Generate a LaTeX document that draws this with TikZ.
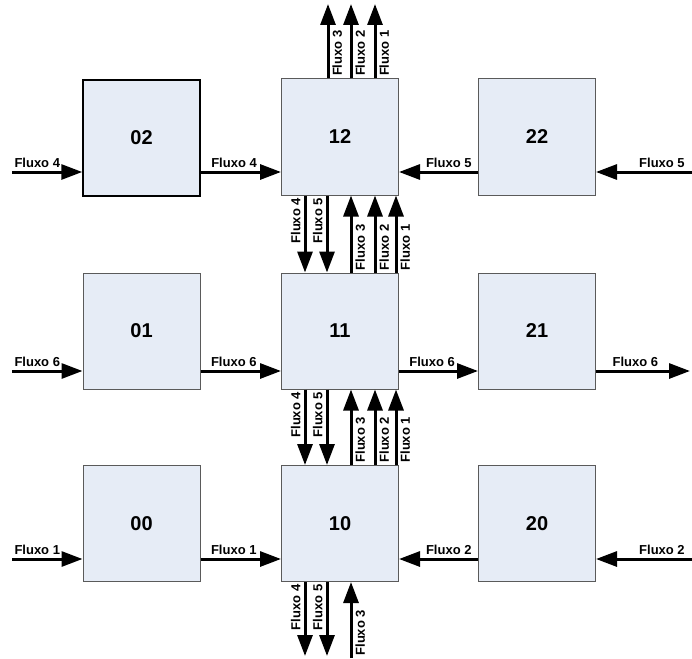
\documentclass[tikz,border=0pt]{standalone}
\usepackage{fontspec}
\setmainfont{Liberation Sans}
\usepackage{xcolor}
\usetikzlibrary{arrows.meta}

\definecolor{boxfill}{RGB}{230,236,246}
\definecolor{boxline}{RGB}{90,90,90}

\begin{document}
\begin{tikzpicture}[
    x=1pt, y=-1pt,
    box/.style={rectangle, draw=boxline, line width=1pt, fill=boxfill, minimum width=117pt, minimum height=116pt, inner sep=0pt, font=\fontsize{20}{24}\selectfont\bfseries},
    flow/.style={line width=3pt, -{Triangle[length=21pt,width=15pt]}},
    lbl/.style={inner xsep=1pt, inner ysep=3pt, font=\fontsize{13}{15}\selectfont\bfseries},
    up/.style={lbl, rotate=90, anchor=north west},
    dn/.style={lbl, rotate=90, anchor=south east}
]
\useasboundingbox (0,0) rectangle (692,658);

\node[box, draw=black, line width=1.5pt] (b02) at (141.5,138) {02};
\node[box] (b12) at (340,137) {12};
\node[box] (b22) at (537,137) {22};
\node[box] (b01) at (141.5,331) {01};
\node[box] (b11) at (340,331) {11};
\node[box] (b21) at (537,331) {21};
\node[box] (b00) at (141.5,523.5) {00};
\node[box] (b10) at (340,523.5) {10};
\node[box] (b20) at (537,523.5) {20};

% free ends
\coordinate (in4) at (12,172);
\coordinate (in5) at (692,172);
\coordinate (in6) at (12,371);
\coordinate (out6) at (690,371);
\coordinate (in1) at (12,559);
\coordinate (in2) at (692,559);
\coordinate (top3) at (328,4);
\coordinate (top2) at (351,4);
\coordinate (top1) at (375,4);
\coordinate (bot4) at (305,656);
\coordinate (bot5) at (327,656);
\coordinate (bot3) at (351,658);

% row 2
\draw[flow] (in4) -- node[lbl, pos=0, anchor=south west] {Fluxo 4} (b02.west |- in4);
\draw[flow] (b02.east |- in4) -- node[lbl, pos=0.1, anchor=south west] {Fluxo 4} (b12.west |- in4);
\draw[flow] (b22.west |- in5) -- node[lbl, pos=0.05, anchor=south east] {Fluxo 5} (b12.east |- in5);
\draw[flow] (in5) -- node[lbl, pos=0.05, anchor=south east] {Fluxo 5} (b22.east |- in5);

% row 1
\draw[flow] (in6) -- node[lbl, pos=0, anchor=south west] {Fluxo 6} (b01.west |- in6);
\draw[flow] (b01.east |- in6) -- node[lbl, pos=0.1, anchor=south west] {Fluxo 6} (b11.west |- in6);
\draw[flow] (b11.east |- in6) -- node[lbl, pos=0.1, anchor=south west] {Fluxo 6} (b21.west |- in6);
\draw[flow] (b21.east |- out6) -- node[lbl, pos=0.15, anchor=south west] {Fluxo 6} (out6);

% row 0
\draw[flow] (in1) -- node[lbl, pos=0, anchor=south west] {Fluxo 1} (b00.west |- in1);
\draw[flow] (b00.east |- in1) -- node[lbl, pos=0.1, anchor=south west] {Fluxo 1} (b10.west |- in1);
\draw[flow] (b20.west |- in2) -- node[lbl, pos=0.05, anchor=south east] {Fluxo 2} (b10.east |- in2);
\draw[flow] (in2) -- node[lbl, pos=0.05, anchor=south east] {Fluxo 2} (b20.east |- in2);

% top outputs
\draw[flow] (b12.north -| top3) -- node[up, pos=0] {Fluxo 3} (top3);
\draw[flow] (b12.north -| top2) -- node[up, pos=0] {Fluxo 2} (top2);
\draw[flow] (b12.north -| top1) -- node[up, pos=0] {Fluxo 1} (top1);

% column between 12, 11 and 10
\foreach \hi/\lo in {b12/b11, b11/b10} {
  \draw[flow] ([xshift=-35pt]\hi.south) -- node[dn, pos=0] {Fluxo 4} ([xshift=-35pt]\lo.north);
  \draw[flow] ([xshift=-13pt]\hi.south) -- node[dn, pos=0] {Fluxo 5} ([xshift=-13pt]\lo.north);
  \draw[flow] ([xshift=11pt]\lo.north) -- node[up, pos=0] {Fluxo 3} ([xshift=11pt]\hi.south);
  \draw[flow] ([xshift=35pt]\lo.north) -- node[up, pos=0] {Fluxo 2} ([xshift=35pt]\hi.south);
  \draw[flow] ([xshift=56pt]\lo.north) -- node[up, pos=0] {Fluxo 1} ([xshift=56pt]\hi.south);
}

% bottom
\draw[flow] (b10.south -| bot4) -- node[dn, pos=0] {Fluxo 4} (bot4);
\draw[flow] (b10.south -| bot5) -- node[dn, pos=0] {Fluxo 5} (bot5);
\draw[flow] (bot3) -- node[up, pos=0] {Fluxo 3} (b10.south -| bot3);

\end{tikzpicture}
\end{document}
